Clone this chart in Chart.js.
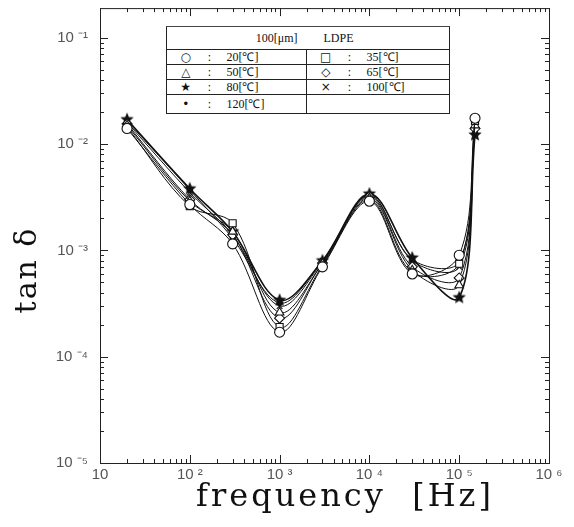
<!DOCTYPE html>
<html>
<head>
<meta charset="utf-8">
<script src="https://cdn.jsdelivr.net/npm/chart.js@4"></script>
<style>
html, body { margin: 0; padding: 0; background: #fff; }
#wrap { position: relative; width: 574px; height: 527px; }
#legend {
    position: absolute; left: 166px; top: 26px; width: 283px;
    border-collapse: collapse; table-layout: fixed;
    font-family: 'Liberation Serif', serif; font-size: 12px; color: #111;
    background: #fff;
}
#legend td { border-top: 1px solid #222; height: 14px; padding: 0; line-height: 14px; white-space: nowrap; }
#legend tr.head td { height: 22px; border-top: 1px solid #444; }
#legend .sym { text-align: center; font-family: 'DejaVu Sans', sans-serif; font-size: 12px; }
#legend .col { text-align: center; }
#legend .lab { padding-left: 12px; }
#legend .split { border-left: 1px solid #222; }
</style>
</head>
<body>
<div id="wrap">
    <canvas id="chart" width="574" height="527"></canvas>
    <table id="legend"></table>
</div>
<script>
// frequency [Hz]
const frequencies = [20, 100, 300, 1000, 3000, 10000, 30000, 100000, 150000];

// tan delta per temperature
const tan20 = [0.0140, 0.0027, 0.00115, 0.00017, 0.00070, 0.0029, 0.00060, 0.00090, 0.0175];
const tan35 = [0.0145, 0.0026, 0.0018, 0.00019, 0.00072, 0.0030, 0.00062, 0.00075, 0.0165];
const tan50 = [0.0150, 0.0029, 0.0015, 0.00026, 0.00075, 0.0031, 0.00065, 0.00047, 0.0150];
const tan65 = [0.0155, 0.0030, 0.0014, 0.00023, 0.00076, 0.0032, 0.00070, 0.00055, 0.0140];
const tan80 = [0.0170, 0.0038, 0.0015, 0.00034, 0.00080, 0.0034, 0.00085, 0.00036, 0.0122];
const tan100 = [0.0160, 0.0035, 0.0014, 0.00030, 0.00078, 0.0033, 0.00080, 0.00070, 0.0130];
const tan120 = [0.0165, 0.0037, 0.0013, 0.00032, 0.00080, 0.0033, 0.00082, 0.00078, 0.0130];

const temps = ['20', '35', '50', '65', '80', '100', '120'];
const legendSymbols = ['○', '□', '△', '◇', '★', '×', '•'];

const xTickLabels = ['10', '10 ²', '10 ³', '10 ⁴', '10 ⁵', '10 ⁶'];   // 10^1 .. 10^6
const yTickLabels = ['10 ⁻⁵', '10 ⁻⁴', '10 ⁻³', '10 ⁻²', '10 ⁻¹'];  // 10^-5 .. 10^-1

function makeStar(r) {
    const c = document.createElement('canvas');
    c.width = c.height = 2 * r + 2;
    const ctx = c.getContext('2d');
    ctx.fillStyle = '#111';
    ctx.beginPath();
    for (let i = 0; i < 10; i++) {
        const a = -Math.PI / 2 + i * Math.PI / 5;
        const rr = i % 2 ? r * 0.45 : r;
        ctx.lineTo(r + 1 + rr * Math.cos(a), r + 1 + rr * Math.sin(a));
    }
    ctx.closePath();
    ctx.fill();
    return c;
}

const series = [tan20, tan35, tan50, tan65, tan80, tan100, tan120];
const styles = [
    { pointStyle: 'circle', radius: 5, fill: '#fff' },
    { pointStyle: 'rect', radius: 5, fill: '#fff' },
    { pointStyle: 'triangle', radius: 5, fill: '#fff' },
    { pointStyle: 'rectRot', radius: 5, fill: '#fff' },
    { pointStyle: makeStar(7), radius: 7, fill: '#111' },
    { pointStyle: 'crossRot', radius: 4, fill: '#fff' },
    { pointStyle: 'circle', radius: 2.5, fill: '#111' }
];

const datasets = series.map((vals, i) => ({
    label: temps[i] + '[℃]',
    data: frequencies.map((f, j) => ({ x: f, y: vals[j] })),
    borderColor: '#111',
    borderWidth: i === 4 ? 1.6 : 1,
    tension: 0.35,
    pointStyle: styles[i].pointStyle,
    pointRadius: styles[i].radius,
    pointBackgroundColor: styles[i].fill,
    pointBorderColor: '#111',
    pointBorderWidth: 1.1,
    fill: false
}));

function isDecade(v) {
    const e = Math.log10(v);
    return Math.abs(e - Math.round(e)) < 1e-6;
}

function logTicks(lo, hi) {
    const out = [];
    for (let e = lo; e < hi; e++) {
        for (let m = 1; m < 10; m++) out.push({ value: m * Math.pow(10, e) });
    }
    out.push({ value: Math.pow(10, hi) });
    return out;
}

// frame with inward tick marks on all four sides, plus axis titles
const framePlugin = {
    id: 'frame',
    beforeDatasetsDraw(chart) {
        const { ctx, chartArea: a, scales } = chart;
        ctx.save();
        ctx.strokeStyle = '#222';
        ctx.lineWidth = 1;
        ctx.strokeRect(a.left + 0.5, a.top + 0.5, a.right - a.left, a.bottom - a.top);
        ctx.beginPath();
        scales.y.ticks.forEach(t => {
            const y = Math.round(scales.y.getPixelForValue(t.value)) + 0.5;
            const len = isDecade(t.value) ? 8 : 4;
            ctx.moveTo(a.left, y); ctx.lineTo(a.left + len, y);
            ctx.moveTo(a.right, y); ctx.lineTo(a.right - len, y);
        });
        scales.x.ticks.forEach(t => {
            const x = Math.round(scales.x.getPixelForValue(t.value)) + 0.5;
            const len = isDecade(t.value) ? 8 : 4;
            ctx.moveTo(x, a.bottom); ctx.lineTo(x, a.bottom - len);
            ctx.moveTo(x, a.top); ctx.lineTo(x, a.top + len);
        });
        ctx.stroke();
        ctx.restore();
    },
    afterDraw(chart) {
        const { ctx } = chart;
        ctx.save();
        ctx.fillStyle = '#111';
        ctx.textAlign = 'center';
        ctx.textBaseline = 'middle';
        ctx.font = '32px "DejaVu Serif"';
        ctx.letterSpacing = '3px';
        ctx.fillText('frequency  [Hz]', 345, 498);
        ctx.font = '30px "DejaVu Serif"';
        ctx.letterSpacing = '2px';
        ctx.translate(28, 270);
        ctx.rotate(-Math.PI / 2);
        ctx.fillText('tan δ', 0, 0);
        ctx.restore();
    }
};

new Chart(document.getElementById('chart'), {
    type: 'line',
    data: { datasets },
    options: {
        responsive: false,
        animation: false,
        layout: { padding: { top: 0, right: 25, left: 0, bottom: 0 } },
        plugins: { legend: { display: false }, tooltip: { enabled: false } },
        scales: {
            x: {
                type: 'logarithmic',
                min: 10,
                max: 1e6,
                afterBuildTicks: s => { s.ticks = logTicks(1, 6); },
                afterFit: s => { s.height = 64; },
                grid: { display: false },
                border: { display: false },
                ticks: {
                    autoSkip: false,
                    maxRotation: 0,
                    padding: -5,
                    color: '#555',
                    font: { family: 'Liberation Sans', size: 15 },
                    callback: v => isDecade(v) ? xTickLabels[Math.round(Math.log10(v)) - 1] : ''
                }
            },
            y: {
                type: 'logarithmic',
                min: 1e-5,
                max: 0.19,
                afterBuildTicks: s => { s.ticks = logTicks(-5, -1); },
                afterFit: s => { s.width = 100; s.paddingTop = 7; s.paddingBottom = 0; },
                grid: { display: false },
                border: { display: false },
                ticks: {
                    autoSkip: false,
                    padding: 4,
                    color: '#555',
                    font: { family: 'Liberation Sans', size: 15 },
                    callback: v => isDecade(v) ? yTickLabels[Math.round(Math.log10(v)) + 5] : ''
                }
            }
        }
    },
    plugins: [framePlugin]
});

// legend box
function buildLegend() {
    const table = document.getElementById('legend');
    const cols = '<colgroup><col style="width:38px"><col style="width:10px"><col style="width:92px">' +
        '<col style="width:38px"><col style="width:10px"><col style="width:95px"></colgroup>';
    let html = cols + '<tr class="head"><td colspan="3" style="text-align:right;padding-right:9px">100[μm]</td>' +
        '<td colspan="3" style="padding-left:17px">LDPE</td></tr>';
    const left = [0, 2, 4, 6];
    const right = [1, 3, 5, -1];
    for (let r = 0; r < 4; r++) {
        const a = left[r], b = right[r];
        html += '<tr>' +
            '<td class="sym">' + legendSymbols[a] + '</td><td class="col">:</td><td class="lab">' + temps[a] + '[℃]</td>' +
            (b >= 0
                ? '<td class="sym split">' + legendSymbols[b] + '</td><td class="col">:</td><td class="lab">' + temps[b] + '[℃]</td>'
                : '<td class="split"></td><td></td><td></td>') +
            '</tr>';
    }
    table.innerHTML = html;
    table.style.border = '1px solid #222';
    table.rows[4].style.height = '19px';
}
buildLegend();
</script>
</body>
</html>
